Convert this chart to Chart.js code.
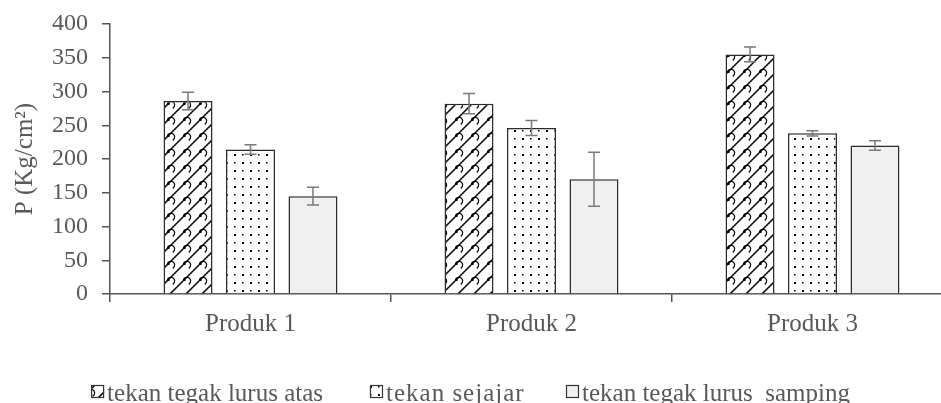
<!DOCTYPE html>
<html>
<head>
<meta charset="utf-8">
<script src="https://cdn.jsdelivr.net/npm/chart.js@4/dist/chart.umd.min.js"></script>
<style>
  html, body { margin: 0; padding: 0; background: #fff; overflow: hidden; }
  #wrap { width: 953px; height: 403px; }
</style>
</head>
<body>
<div id="wrap"><canvas id="c" width="953" height="403"></canvas></div>
<script>
// Compressive strength per product and loading direction
const categories = ['Produk 1', 'Produk 2', 'Produk 3'];
const seriesNames = ['tekan tegak lurus atas', 'tekan sejajar', 'tekan tegak lurus  samping'];
const atas = [286, 282, 355];
const sejajar = [214, 246, 238];
const samping = [145, 170, 220];
// standard deviation (±) for each bar
const errAtas = [13, 15, 11];
const errSejajar = [7, 11, 4];
const errSamping = [13, 40, 7];
const yTicks = [0, 50, 100, 150, 200, 250, 300, 350, 400];

const FONT = '"Liberation Serif", "Times New Roman", serif';
const TEXT = '#595959';
const AXIS = '#555555';

function makeTile(size, draw) {
  const t = document.createElement('canvas');
  t.width = size; t.height = size;
  const g = t.getContext('2d');
  g.fillStyle = '#ffffff';
  g.fillRect(0, 0, size, size);
  draw(g);
  return t;
}

// shingle hatch: rising diagonals, each carrying a small scallop
const shingleTile = makeTile(16, g => {
  g.strokeStyle = '#000';
  g.lineWidth = 1.5;
  g.beginPath();
  g.moveTo(-2, 18); g.lineTo(18, -2);
  g.moveTo(-2, 2); g.lineTo(2, -2);
  g.moveTo(14, 18); g.lineTo(18, 14);
  g.stroke();
  g.lineWidth = 1.2;
  g.beginPath();
  g.arc(11, 9, 3.6, Math.PI * 1.2, Math.PI * 0.35);
  g.stroke();
  g.fillStyle = '#000';
  g.fillRect(7, 6.5, 2.5, 2.5);
});

// sparse dot fill
const dotTile = makeTile(16, g => {
  g.fillStyle = '#000';
  g.fillRect(2, 2, 2, 2);
  g.fillRect(10, 2, 1.5, 1.5);
  g.fillRect(2, 10, 1.5, 1.5);
  g.fillRect(10, 10, 2, 2);
});

const ctx = document.getElementById('c').getContext('2d');
const shingle = ctx.createPattern(shingleTile, 'repeat');
const dots = ctx.createPattern(dotTile, 'repeat');
const fills = [shingle, dots, '#f0f0f0'];
const errors = [errAtas, errSejajar, errSamping];

const errorBars = {
  id: 'errorBars',
  afterDatasetsDraw(chart) {
    const y = chart.scales.y;
    const c = chart.ctx;
    c.save();
    c.strokeStyle = '#7a7a7a';
    c.lineWidth = 1.5;
    chart.data.datasets.forEach((ds, i) => {
      const meta = chart.getDatasetMeta(i);
      meta.data.forEach((bar, j) => {
        const v = ds.data[j], e = errors[i][j];
        const top = y.getPixelForValue(v + e);
        const bot = y.getPixelForValue(v - e);
        const x = bar.x;
        c.beginPath();
        c.moveTo(x, top); c.lineTo(x, bot);
        c.moveTo(x - 6, top); c.lineTo(x + 6, top);
        c.moveTo(x - 6, bot); c.lineTo(x + 6, bot);
        c.stroke();
      });
    });
    c.restore();
  }
};

// legend row under the category labels: swatch + name
const bottomLegend = {
  id: 'bottomLegend',
  afterDraw(chart) {
    const c = chart.ctx;
    c.save();
    c.font = '25px ' + FONT;
    c.textBaseline = 'alphabetic';
    const box = 13, gapText = 3;
    const boxX = [323 - c.measureText(seriesNames[0]).width - gapText - box, 370, 566];
    const base = 401;
    seriesNames.forEach((name, i) => {
      const x = boxX[i];
      c.fillStyle = fills[i];
      c.fillRect(x, base - 16, box, box);
      c.strokeStyle = '#333';
      c.lineWidth = 1.2;
      c.strokeRect(x + 0.5, base - 15.5, box - 1, box - 1);
      c.fillStyle = TEXT;
      if (i === 1) c.letterSpacing = '1px';
      c.fillText(name, x + box + gapText, base);
      c.letterSpacing = '0px';
    });
    c.restore();
  }
};

new Chart(ctx, {
  type: 'bar',
  data: {
    labels: categories,
    datasets: [atas, sejajar, samping].map((d, i) => ({
      label: seriesNames[i],
      data: d,
      backgroundColor: fills[i],
      borderColor: '#2b2b2b',
      borderWidth: 1.5,
      categoryPercentage: 0.667,
      barPercentage: 0.784
    }))
  },
  options: {
    responsive: false,
    animation: false,
    events: [],
    layout: { padding: { left: 4, top: 24, right: 0, bottom: 0 } },
    plugins: { legend: { display: false }, tooltip: { enabled: false } },
    scales: {
      x: {
        grid: { display: true, drawOnChartArea: false, drawTicks: true, tickLength: 8, offset: true, color: AXIS, lineWidth: 1.5 },
        border: { display: true, color: AXIS, width: 1.5 },
        ticks: { font: { family: FONT, size: 25 }, color: TEXT, padding: 7 },
        afterFit(s) { s.height = 109; }
      },
      y: {
        min: 0, max: 400,
        afterBuildTicks(s) { s.ticks = yTicks.map(v => ({ value: v })); },
        ticks: { font: { family: FONT, size: 24 }, color: TEXT, padding: 14 },
        grid: { display: true, drawOnChartArea: false, drawTicks: true, tickLength: 8, color: AXIS, lineWidth: 1.5 },
        border: { display: true, color: AXIS, width: 1.5 },
        title: { display: true, text: 'P (Kg/cm²)', font: { family: FONT, size: 25 }, color: TEXT, padding: { top: 6, bottom: 0 } },
        afterFit(s) { s.width = 106; s.paddingTop = 0; s.paddingBottom = 0; }
      }
    }
  },
  plugins: [errorBars, bottomLegend]
});
</script>
</body>
</html>
